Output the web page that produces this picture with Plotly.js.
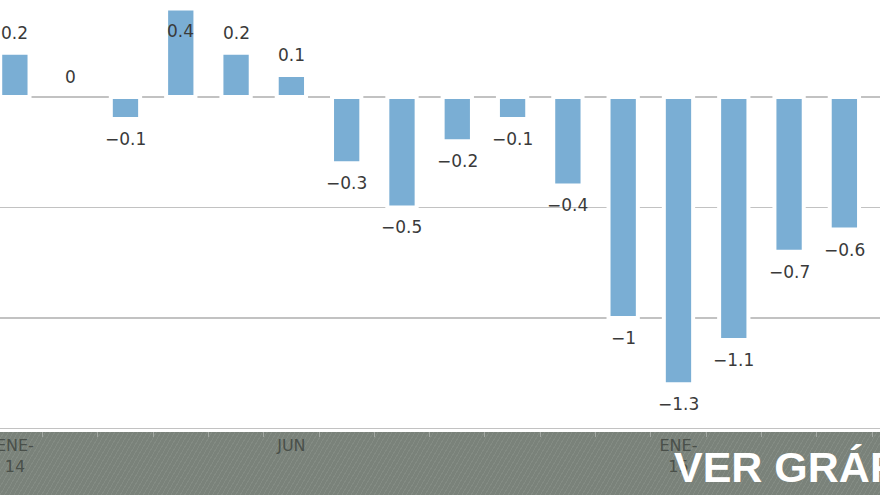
<!DOCTYPE html>
<html>
<head>
<meta charset="utf-8">
<script src="https://cdn.plot.ly/plotly-3.0.1.min.js"></script>
<style>
html,body{margin:0;padding:0;overflow:hidden;}
body{background:repeating-linear-gradient(120deg,#7a827a 0px,#7a827a 3px,#838b83 3px,#838b83 4px);}
#chart{width:880px;height:495px;}
</style>
</head>
<body>
<div id="chart"></div>
<script>
var months = ['ENE-14','FEB-14','MAR-14','ABR-14','MAY-14','JUN-14','JUL-14','AGO-14','SEP-14','OCT-14','NOV-14','DIC-14','ENE-15','FEB-15','MAR-15','ABR-15','MAY-15'];
var values = [0.2, 0, -0.1, 0.4, 0.2, 0.1, -0.3, -0.5, -0.2, -0.1, -0.4, -1, -1.3, -1.1, -0.7, -0.6, -0.2];
var tickCats = ['ENE-14','JUN-14','ENE-15'];
var tickLabels = ['ENE-<br>14','JUN','ENE-<br>15'];
var yGrid = [0, -0.5, -1, -1.5];
var yRange = [-1.507, 0.439];

var labelText = values.map(function(v){ return v === 0 ? '0' : String(v).replace('-', '−'); });
var annotations = values.map(function(v, i){
  var tooHigh = v > 0.3;
  return {
    x: months[i], y: v, xref: 'x', yref: 'y',
    text: labelText[i], showarrow: false,
    yanchor: tooHigh ? 'top' : (v >= 0 ? 'bottom' : 'top'),
    yshift: tooHigh ? -10 : (v >= 0 ? 8 : -8),
    font: {family: 'DejaVu Sans', size: 17, color: '#3a3a3a'}
  };
});
annotations.push({
  xref: 'paper', yref: 'paper', x: 0.764, y: -0.087,
  xanchor: 'left', yanchor: 'middle', showarrow: false,
  text: '<b>VER GRÁFICO</b>',
  font: {family: 'Liberation Sans', size: 43, color: '#ffffff'}
});

var trace = {
  type: 'bar',
  x: months,
  y: values,
  width: 0.53,
  marker: {
    color: '#7aaed4',
    line: {color: '#ffffff', width: values.map(function(v){ return v === 0 ? 0 : 4; })}
  },
  hoverinfo: 'skip'
};

var layout = {
  width: 880, height: 495,
  margin: {l: 0, r: 0, t: 0, b: 65},
  paper_bgcolor: 'rgba(0,0,0,0)',
  plot_bgcolor: '#ffffff',
  showlegend: false,
  hovermode: false,
  xaxis: {
    type: 'category',
    range: [-0.269, 15.644],
    tickmode: 'array',
    tickvals: months,
    ticktext: months.map(function(m){ var k = tickCats.indexOf(m); return k >= 0 ? tickLabels[k] : ''; }),
    tickson: 'boundaries',
    ticks: 'outside', ticklen: 5, tickcolor: '#a3a8a3', tickwidth: 1,
    tickfont: {family: 'DejaVu Sans', size: 16, color: '#4a504a'},
    showgrid: false, zeroline: false,
    showline: true, linecolor: '#ffffff', linewidth: 2
  },
  yaxis: {
    range: yRange,
    tickmode: 'array', tickvals: yGrid,
    showticklabels: false,
    showgrid: true, gridcolor: '#c2c2c2', gridwidth: 1.5,
    zeroline: false, fixedrange: true
  },
  annotations: annotations
};

Plotly.newPlot('chart', [trace], layout, {displayModeBar: false, staticPlot: true});
</script>
</body>
</html>
